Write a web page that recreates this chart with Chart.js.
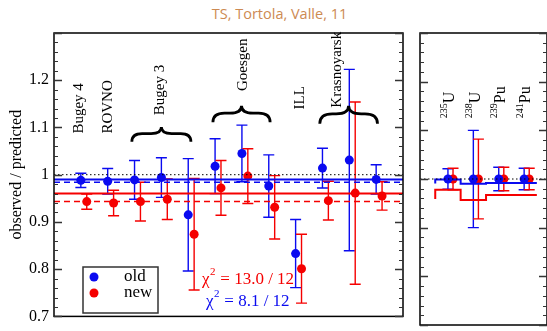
<!DOCTYPE html>
<html>
<head>
<meta charset="utf-8">
<script src="https://cdn.jsdelivr.net/npm/chart.js@4.4.0/dist/chart.umd.min.js"></script>
<style>
html, body { margin: 0; padding: 0; background: #fff; overflow: hidden; width: 547px; height: 331px; }
#title { position: absolute; left: 6px; top: 4px; width: 547px; text-align: center; font: 14.5px "Open Sans"; color: #cd8a52; }
#leftBox { position: absolute; left: 0; top: 0; width: 412px; height: 331px; }
#rightBox { position: absolute; left: 412px; top: 0; width: 140px; height: 331px; }
</style>
</head>
<body>
<div id="title">TS, Tortola, Valle, 11</div>
<div id="leftBox"><canvas id="left" width="412" height="331"></canvas></div>
<div id="rightBox"><canvas id="right" width="140" height="331"></canvas></div>
<script>
// reactor experiments (left panel), one entry per data point
const experiments = ["Bugey 4", "ROVNO", "Bugey 3", "Bugey 3", "Bugey 3", "Goesgen", "Goesgen", "Goesgen", "ILL", "Krasnoyarsk", "Krasnoyarsk", "Krasnoyarsk"];
const oldRatio = [0.988, 0.986, 0.989, 0.994, 0.915, 1.018, 1.045, 0.976, 0.833, 1.014, 1.031, 0.990];
const oldErr   = [0.015, 0.027, 0.041, 0.042, 0.119, 0.058, 0.060, 0.066, 0.072, 0.042, 0.192, 0.031];
const newRatio = [0.943, 0.940, 0.943, 0.948, 0.874, 0.972, 0.997, 0.931, 0.801, 0.945, 0.961, 0.955];
const newErr   = [0.016, 0.027, 0.041, 0.043, 0.118, 0.058, 0.058, 0.067, 0.073, 0.041, 0.193, 0.030];

// fitted averages
const oldFit = 0.990, oldFitAlt = 0.984;
const newFit = 0.960, newFitAlt = 0.943;

// isotopes (right panel)
const isoMass = ["235", "238", "239", "241"];
const isoSym  = ["U", "U", "Pu", "Pu"];
const isoOld    = [1.0, 1.0, 1.0, 1.0];
const isoOldErr = [0.021, 0.100, 0.024, 0.022];
const isoNew    = [1.0, 1.0, 1.0, 1.0];
const isoNewErr = [0.022, 0.082, 0.024, 0.022];
const stepOld = [0.991, 0.999, 0.990, 0.992];
const stepNew = [0.959, 0.978, 0.957, 0.967];

const chi2New = "13.0 / 12";
const chi2Old = "8.1 / 12";

const yTicks = [0.7, 0.8, 0.9, 1.0, 1.1, 1.2];
const BLUE = "#0a0af0", RED = "#f50000";
const SERIF = "Liberation Serif";

const pts = (xs, ys) => xs.map((x, i) => ({ x: x, y: ys[i] }));
const expPos = experiments.map((_, i) => i + 1);
const isoPos = isoMass.map((_, i) => i + 1);

// frame + inward ticks
const framePlugin = {
    id: "frame",
    afterDraw(chart) {
        const { ctx, chartArea: a, scales } = chart;
        const y = scales.y;
        ctx.save();
        ctx.strokeStyle = "#000";
        ctx.lineWidth = 1.5;
        ctx.strokeRect(a.left, a.top, a.right - a.left, a.bottom - a.top);
        ctx.strokeStyle = "#333";
        for (let i = 0; i <= 30; i++) {
            const py = Math.round(y.getPixelForValue(0.7 + i * 0.02)) + 0.5;
            const len = i % 5 === 0 ? 8 : 4;
            ctx.lineWidth = i % 5 === 0 ? 1.5 : 1;
            ctx.beginPath();
            ctx.moveTo(a.left, py); ctx.lineTo(a.left + len, py);
            ctx.moveTo(a.right, py); ctx.lineTo(a.right - len, py);
            ctx.stroke();
        }
        ctx.restore();
    }
};

function drawErrors(chart, xs, ys, errs, color) {
    const { ctx, scales: { x, y } } = chart;
    ctx.save();
    ctx.strokeStyle = color;
    ctx.lineWidth = 1.4;
    xs.forEach((xv, i) => {
        const px = x.getPixelForValue(xv);
        const top = y.getPixelForValue(ys[i] + errs[i]);
        const bot = y.getPixelForValue(ys[i] - errs[i]);
        ctx.beginPath();
        ctx.moveTo(px, top); ctx.lineTo(px, bot);
        ctx.moveTo(px - 5.5, top); ctx.lineTo(px + 5.5, top);
        ctx.moveTo(px - 5.5, bot); ctx.lineTo(px + 5.5, bot);
        ctx.stroke();
    });
    ctx.restore();
}

function brace(ctx, x1, x2, yBase, yTip) {
    const xm = (x1 + x2) / 2;
    const h = yBase - yTip;
    const yMid = yBase - h * 0.55;
    const r = h * 0.7;
    ctx.beginPath();
    ctx.moveTo(x1, yBase);
    ctx.quadraticCurveTo(x1, yMid, x1 + r, yMid);
    ctx.lineTo(xm - r, yMid);
    ctx.quadraticCurveTo(xm, yMid, xm, yTip);
    ctx.quadraticCurveTo(xm, yMid, xm + r, yMid);
    ctx.lineTo(x2 - r, yMid);
    ctx.quadraticCurveTo(x2, yMid, x2, yBase);
    ctx.stroke();
}

function vText(ctx, text, px, py, size) {
    ctx.save();
    ctx.translate(px, py);
    ctx.rotate(-Math.PI / 2);
    ctx.font = size + "px " + SERIF;
    ctx.textAlign = "left";
    ctx.textBaseline = "middle";
    ctx.fillText(text, 0, 0);
    ctx.restore();
}

const leftDeco = {
    id: "leftDeco",
    beforeDatasetsDraw(chart) {
        drawErrors(chart, expPos, oldRatio, oldErr, BLUE);
        drawErrors(chart, expPos.map(v => v + 0.22), newRatio, newErr, RED);
    },
    afterDraw(chart) {
        const { ctx, scales: { x, y } } = chart;
        ctx.save();
        ctx.fillStyle = "#000";
        // experiment names
        const names = [["Bugey 4", 0.93, 1.087], ["ROVNO", 2.0, 1.087], ["Bugey 3", 3.95, 1.126],
                       ["Goesgen", 7.05, 1.177], ["ILL", 9.15, 1.138], ["Krasnoyarsk", 10.55, 1.142]];
        names.forEach(n => vText(ctx, n[0], x.getPixelForValue(n[1]), y.getPixelForValue(n[2]), 15));
        // braces grouping the multi-point experiments
        ctx.strokeStyle = "#000";
        ctx.lineWidth = 2.8;
        [[2.9, 5.1, 1.070, 1.101], [5.92, 8.05, 1.111, 1.146], [9.9, 12.05, 1.108, 1.146]].forEach(b =>
            brace(ctx, x.getPixelForValue(b[0]), x.getPixelForValue(b[1]), y.getPixelForValue(b[2]), y.getPixelForValue(b[3])));
        // legend
        ctx.lineWidth = 1.5;
        ctx.strokeStyle = "#333";
        ctx.fillStyle = "#fff";
        ctx.fillRect(83, 267, 75, 46);
        ctx.strokeRect(83, 267, 75, 46);
        [[BLUE, "old", 277], [RED, "new", 293]].forEach(l => {
            ctx.fillStyle = l[0];
            ctx.beginPath(); ctx.arc(94, l[2], 4.5, 0, 2 * Math.PI); ctx.fill();
            ctx.fillStyle = "#000";
            ctx.font = "17px " + SERIF;
            ctx.textBaseline = "middle";
            ctx.textAlign = "left";
            ctx.fillText(l[1], 124, l[2]);
        });
        // chi2 annotations
        [[RED, chi2New, 202, 284], [BLUE, chi2Old, 206, 306]].forEach(c => {
            ctx.fillStyle = c[0];
            ctx.textBaseline = "alphabetic";
            ctx.font = "17px " + SERIF;
            ctx.fillText("\u03c7", c[2], c[3]);
            let w = ctx.measureText("\u03c7").width;
            ctx.font = "11px " + SERIF;
            ctx.fillText("2", c[2] + w + 0.5, c[3] - 9);
            w += ctx.measureText("2").width + 1;
            ctx.font = "17px " + SERIF;
            ctx.fillText(" = " + c[1], c[2] + w, c[3]);
        });
        ctx.restore();
    }
};

const rightDeco = {
    id: "rightDeco",
    beforeDatasetsDraw(chart) {
        drawErrors(chart, isoPos, isoOld, isoOldErr, BLUE);
        drawErrors(chart, isoPos.map(v => v + 0.2), isoNew, isoNewErr, RED);
    },
    afterDraw(chart) {
        const { ctx, scales: { x, y } } = chart;
        ctx.save();
        ctx.fillStyle = "#000";
        isoMass.forEach((m, i) => {
            const px = x.getPixelForValue(isoPos[i]) + 2;
            const py = y.getPixelForValue(1.125);
            ctx.save();
            ctx.translate(px, py);
            ctx.rotate(-Math.PI / 2);
            ctx.textAlign = "left";
            ctx.textBaseline = "middle";
            ctx.font = "10px " + SERIF;
            ctx.fillText(m, 0, -6);
            const w = ctx.measureText(m).width;
            ctx.font = "16px " + SERIF;
            ctx.fillText(isoSym[i], w, 0);
            ctx.restore();
        });
        ctx.restore();
    }
};

const hline = (x0, x1, v, color, width, dash) => ({
    type: "line", data: [{ x: x0, y: v }, { x: x1, y: v }],
    borderColor: color, borderWidth: width, borderDash: dash || [], pointRadius: 0
});

const yScale = {
    min: 0.7, max: 1.3,
    afterBuildTicks: s => { s.ticks = yTicks.map(v => ({ value: v })); },
    afterFit: s => { s.width = 54; },
    grid: { display: false, drawTicks: false },
    border: { display: false },
    ticks: {
        padding: 5, color: "#000",
        font: { family: SERIF, size: 16 },
        callback: v => (Math.abs(v - 1) < 1e-9 ? "1" : v.toFixed(1))
    },
    title: { display: true, text: "observed / predicted", color: "#000", font: { family: SERIF, size: 16 }, padding: { top: 7, bottom: 0 } }
};

new Chart(document.getElementById("left"), {
    data: {
        datasets: [
            hline(0, 13, 1.0, "#000", 1, [1.5, 2.5]),
            hline(0, 13, oldFit, BLUE, 2),
            hline(0, 13, oldFitAlt, BLUE, 1.5, [6, 4]),
            hline(0, 13, newFit, RED, 2),
            hline(0, 13, newFitAlt, RED, 1.5, [6, 4]),
            { type: "scatter", data: pts(expPos, oldRatio), backgroundColor: BLUE, borderWidth: 0, pointRadius: 4.5 },
            { type: "scatter", data: pts(expPos.map(v => v + 0.22), newRatio), backgroundColor: RED, borderWidth: 0, pointRadius: 4.5 }
        ]
    },
    options: {
        responsive: false, animation: false, devicePixelRatio: 1,
        layout: { padding: { top: 33, bottom: 6, left: 0, right: 9 } },
        plugins: { legend: { display: false }, tooltip: { enabled: false } },
        scales: {
            x: { type: "linear", min: 0, max: 13, display: false },
            y: yScale
        }
    },
    plugins: [leftDeco, framePlugin]
});

const stepPts = vals => vals.map((v, i) => ({ x: i + 0.5, y: v })).concat([{ x: vals.length + 0.5, y: vals[vals.length - 1] }]);

new Chart(document.getElementById("right"), {
    data: {
        datasets: [
            hline(-0.1, 4.9, 1.0, "#000", 1, [1.5, 2.5]),
            { type: "line", data: stepPts(stepOld), stepped: "after", borderColor: BLUE, borderWidth: 2, pointRadius: 0 },
            { type: "line", data: stepPts(stepNew), stepped: "after", borderColor: RED, borderWidth: 2, pointRadius: 0 },
            { type: "scatter", data: pts(isoPos, isoOld), backgroundColor: BLUE, borderWidth: 0, pointRadius: 4.5 },
            { type: "scatter", data: pts(isoPos.map(v => v + 0.2), isoNew), backgroundColor: RED, borderWidth: 0, pointRadius: 4.5 }
        ]
    },
    options: {
        responsive: false, animation: false, devicePixelRatio: 1,
        layout: { padding: { top: 33, bottom: 6, left: 8, right: 5 } },
        plugins: { legend: { display: false }, tooltip: { enabled: false } },
        scales: {
            x: { type: "linear", min: -0.1, max: 4.9, display: false },
            y: { min: 0.7, max: 1.3, display: false }
        }
    },
    plugins: [rightDeco, framePlugin]
});
</script>
</body>
</html>
